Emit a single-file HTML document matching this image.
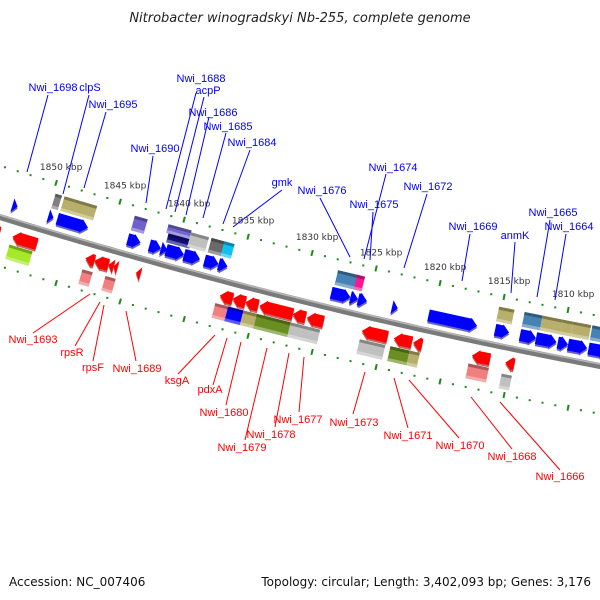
<!DOCTYPE html>
<html><head><meta charset="utf-8"><style>
html,body{margin:0;padding:0;background:#fff;}
svg{display:block;font-family:"DejaVu Sans","Liberation Sans",sans-serif;}
</style></head><body>
<svg id="map" width="600" height="600" viewBox="0 0 600 600" xmlns="http://www.w3.org/2000/svg">
<text x="300" y="22" text-anchor="middle" font-size="13" font-style="italic" fill="#222">Nitrobacter winogradskyi Nb-255, complete genome</text>
<text x="9" y="586" font-size="12" fill="#111">Accession: NC_007406</text>
<text x="591" y="586" text-anchor="end" font-size="12" fill="#111">Topology: circular; Length: 3,402,093 bp; Genes: 3,176</text>
<g id="layer"></g>
</svg>
<script>
// ---- data (kbp coordinates) ----
const tickMajor = [1850,1845,1840,1835,1830,1825,1820,1815,1810];
const tickMinorStart = 1855, tickMinorEnd = 1806;
const fwdStart = [1853.4,1850.6,1849.9,1844.4,1842.7,1841.8,1841.4,1840.0,1838.4,1837.3,1828.5,1827.0,1826.4,1823.75,1820.9,1815.7,1813.75,1812.5,1810.8,1810.0,1808.4];
const fwdEnd   = [1853.0,1850.2,1847.5,1843.4,1841.8,1841.3,1840.0,1838.75,1837.3,1836.6,1827.0,1826.4,1825.7,1823.3,1817.1,1814.6,1812.5,1810.9,1810.0,1808.5,1806.9];
const revStart = [1855.5,1853.4,1847.7,1847.0,1845.9,1845.5,1843.75,1837.2,1836.2,1835.2,1834.1,1831.5,1830.4,1826.1,1823.6,1822.1,1817.5,1814.9];
const revEnd   = [1854.4,1851.5,1847.0,1845.9,1845.5,1845.2,1843.4,1836.2,1835.2,1834.2,1831.5,1830.5,1829.1,1824.1,1822.2,1821.4,1816.1,1814.2];
const fcogStart = [1850.2,1849.5,1844.0,1841.3,1841.3,1839.6,1838.0,1837.0,1828.1,1826.6,1815.5,1813.5,1812.1,1810.5,1809.7,1808.2];
const fcogEnd   = [1849.7,1846.95,1843.0,1839.5,1839.5,1838.2,1836.9,1836.2,1826.5,1826.0,1814.3,1812.1,1810.5,1809.7,1808.3,1806.5];
const fcogColor = ["#808080","#b8b06a","#7060cc","#7468d0","#101080","#c0c0c0","#6a6a6a","#10c0f0","#4682b4","#ff1493","#b8b06a","#4682b4","#b8b06a","#b8b06a","#b8b06a","#4682b4"];
const fcogOff   = [-31,-31,-32,-36,-27,-31,-31,-31,-31,-31,-31,-31,-31,-31,-31,-31];
const rcogStart = [1853.8,1848.1,1846.3,1837.7,1836.7,1835.5,1834.45,1831.8,1826.4,1824.0,1822.5,1817.9,1815.3];
const rcogEnd   = [1852.0,1847.3,1845.5,1836.7,1835.5,1834.45,1831.8,1829.5,1824.4,1822.5,1821.7,1816.3,1814.5];
const rcogColor = ["#a6e82a","#f08080","#f08080","#f08080","#0000ff","#b8b06a","#6b8e23","#c0c0c0","#c0c0c0","#6b8e23","#b8b06a","#f08080","#c0c0c0"];
const rcogOff   = [31,34,34,31,31,31,31,31,31,31,31,31,34];

const topNames = ["Nwi_1698","clpS","Nwi_1695","Nwi_1688","acpP","Nwi_1686","Nwi_1685","Nwi_1690","Nwi_1684","gmk","Nwi_1676","Nwi_1674","Nwi_1675","Nwi_1672","Nwi_1669","anmK","Nwi_1665","Nwi_1664"];
const topText = [[53,91],[90,91],[113,108],[201,82],[208,94],[213,116],[228,130],[155,152],[252,146],[282,186],[322,194],[393,171],[374,208],[428,190],[473,230],[515,239],[553,216],[569,230]];
const topLine = [[48,95,27,172],[89,95,63,194],[106,112,84,188],[196,93,166,209],[204,97,175,212],[209,117,186,215],[226,133,203,218],[153,156,146,203],[250,150,223,224],[282,190,233,227],[320,198,350,257],[386,174,364,259],[373,212,370,260],[427,194,404,268],[470,234,462,281],[515,242,511,293],[550,220,537,297],[566,234,555,300]];
const botNames = ["Nwi_1693","rpsR","rpsF","Nwi_1689","ksgA","pdxA","Nwi_1680","Nwi_1677","Nwi_1678","Nwi_1679","Nwi_1673","Nwi_1671","Nwi_1670","Nwi_1668","Nwi_1666"];
const botText = [[33,343],[72,356],[93,371],[137,372],[177,384],[210,393],[224,416],[298,423],[271,438],[242,451],[354,426],[408,439],[460,449],[512,460],[560,480]];
const botLine = [[33,333,90,294],[75,346,100,302],[93,361,104,305],[136,361,126,311],[178,374,215,335],[213,385,227,338],[226,405,241,342],[299,412,304,357],[275,427,289,353],[245,440,267,348],[353,414,365,372],[408,428,394,378],[459,438,409,380],[512,449,471,397],[560,470,500,402]];

// ---- geometry ----
function sx(k){ return 56 + (1850 - k) * 12.8; }
function yc(x){ const d = x - 56; return 185 + 0.297*d - 0.0001*d*d + 49; }
function ang(x){ return Math.atan(0.297 - 0.0002*(x - 56)); }
function P(k, off, c){
  const a0 = ang(sx(k));
  const xb = sx(k) + c*Math.sin(a0);
  const a = ang(xb);
  return [xb - off*Math.sin(a), yc(xb) + off*Math.cos(a)];
}
function pts(arr){ return arr.map(p => p[0].toFixed(1)+","+p[1].toFixed(1)).join(" "); }
function shade(hex, f){
  const n = parseInt(hex.slice(1),16); let r=n>>16,g=(n>>8)&255,b=n&255;
  if(f<0){r=r*(1+f);g=g*(1+f);b=b*(1+f);} else {r=r+(255-r)*f;g=g+(255-g)*f;b=b+(255-b)*f;}
  return "rgb("+Math.round(r)+","+Math.round(g)+","+Math.round(b)+")";
}
const NS = "http://www.w3.org/2000/svg";
const layer = document.getElementById("layer");
function el(tag, attrs){ const e = document.createElementNS(NS, tag); for (const k in attrs) e.setAttribute(k, attrs[k]); layer.appendChild(e); return e; }

// backbone
let bb = [], bbTop = [];
for (let x = -20; x <= 620; x += 10){ bb.push([x, yc(x)]); bbTop.push([x, yc(x)-2]); }
let e = el("polyline", {points: pts(bb), fill:"none", stroke:"#7a7a7a", "stroke-width":6});


e = el("polyline", {points: pts(bbTop), fill:"none", stroke:"#b8b8b8", "stroke-width":1.5});



// ticks
for (let k = tickMinorStart; k >= tickMinorEnd; k--){
  const major = tickMajor.indexOf(k) >= 0;
  [-49, 47].forEach(off => {
    let t;
    if (major){ const a = P(k, off-3, off), b = P(k, off+3, off); t = el("line", {x1:a[0],y1:a[1],x2:b[0],y2:b[1],stroke:"#1a8a1a","stroke-width":2}); }
    else { const c = P(k, off, off); t = el("rect", {x:c[0]-1,y:c[1]-1,width:2,height:2,fill:"#1a8a1a"}); }
    
    
  });
  if (major){
    const c = P(k, -49, -49);
    const t = el("text", {x:c[0]+5, y:c[1]-13, "text-anchor":"middle", "font-size":9, fill:"#333"});
    t.textContent = k + " kbp";
    
    
  }
}

function box(k1, k2, off, h, color){
  const g = [P(k1, off-h/2, off), P(k2, off-h/2, off), P(k2, off+h/2, off), P(k1, off+h/2, off)];
  const r = el("polygon", {points: pts(g), fill: color});
  
  
  const top = [P(k1, off-h/2, off), P(k2, off-h/2, off), P(k2, off-h/2+3, off), P(k1, off-h/2+3, off)];
  const s1 = el("polygon", {points: pts(top), fill: shade(color, -0.3)});
  
  
  const bot = [P(k1, off+h/2-3, off), P(k2, off+h/2-3, off), P(k2, off+h/2, off), P(k1, off+h/2, off)];
  const s2 = el("polygon", {points: pts(bot), fill: shade(color, 0.35)});
  
  
}
function arrow(k1, k2, off, color, dir){
  const len = Math.abs(k1-k2), head = Math.min(0.55, len);
  let g;
  if (dir > 0){
    const kb = k2 + head;
    g = [P(k1, off-6, off), P(kb, off-6, off), P(kb, off-7, off), P(k2, off, off), P(kb, off+7, off), P(kb, off+6, off), P(k1, off+6, off)];
    if (len <= 0.55) g = [P(k1, off-7, off), P(k2, off, off), P(k1, off+7, off)];
  } else {
    const kb = k1 - head;
    g = [P(k2, off-6, off), P(kb, off-6, off), P(kb, off-7, off), P(k1, off, off), P(kb, off+7, off), P(kb, off+6, off), P(k2, off+6, off)];
    if (len <= 0.55) g = [P(k2, off-7, off), P(k1, off, off), P(k2, off+7, off)];
  }
  const a = el("polygon", {points: pts(g), fill: color});
  
  
  const s = el("polygon", {points: pts(g.map(p=>[p[0],p[1]+2])), fill: shade(color,-0.4), opacity:0.6});
  
  
  layer.insertBefore(s, a);
}
for (let i = 0; i < fcogStart.length; i++) box(fcogStart[i], fcogEnd[i], fcogOff[i], (fcogOff[i] === -31 || fcogOff[i] === -32) ? 15 : 9, fcogColor[i]);
for (let i = 0; i < rcogStart.length; i++) box(rcogStart[i], rcogEnd[i], rcogOff[i], 15, rcogColor[i]);
for (let i = 0; i < fwdStart.length; i++) arrow(fwdStart[i], fwdEnd[i], -15, "#0000ff", 1);
for (let i = 0; i < revStart.length; i++) arrow(revStart[i], revEnd[i], 15, "#ff0000", -1);

// labels
function label(name, tp, lp, color, nm){
  const l = el("line", {x1:lp[0],y1:lp[1],x2:lp[2],y2:lp[3],stroke:color,"stroke-width":1});
  
  
  const t = el("text", {x:tp[0], y:tp[1], "text-anchor":"middle", "font-size":11, fill:color, "font-family":"Liberation Sans, sans-serif"});
  t.textContent = name;
  
  
}
for (let i = 0; i < topNames.length; i++) label(topNames[i], topText[i], topLine[i], "#0000ff", "forward-gene-label");
for (let i = 0; i < botNames.length; i++) label(botNames[i], botText[i], botLine[i], "#ff0000", "reverse-gene-label");
</script>
</body></html>
